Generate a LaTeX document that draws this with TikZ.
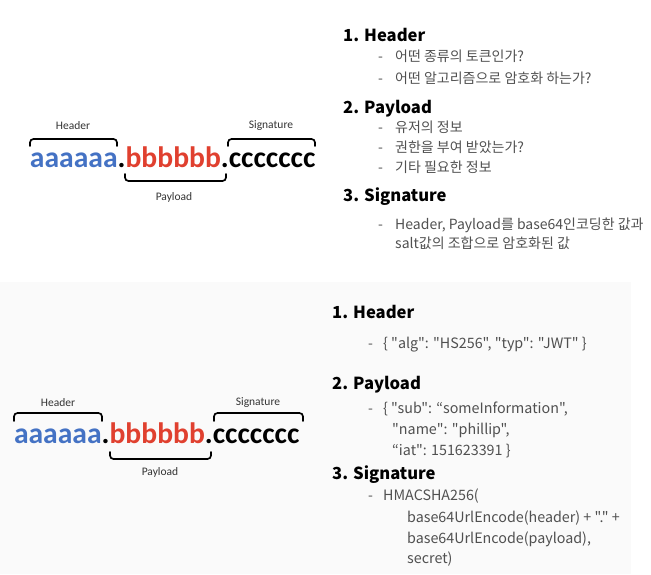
\documentclass[tikz,border=0pt]{standalone}
\usepackage{fontspec}
\setmainfont{Carlito}
\newfontfamily\krfont{Noto Sans CJK KR}
\definecolor{tokblue}{HTML}{4472C4}
\definecolor{tokred}{HTML}{E0402F}
\definecolor{itemgray}{HTML}{505050}
\definecolor{lblgray}{HTML}{333333}
\definecolor{panelbg}{HTML}{FAFAFA}
\tikzset{
  tok/.style={inner sep=0pt, outer sep=0pt, anchor=base west, font=\fontsize{29.6}{30}\selectfont\bfseries},
  lbl/.style={inner sep=0pt, text=lblgray, font=\fontsize{11.5}{12}\selectfont},
  brk/.style={line width=1.7pt, rounded corners=3.5pt, line cap=round},
  head/.style={inner sep=0pt, anchor=base west, font=\krfont\fontsize{16.6}{20}\selectfont\bfseries},
  item/.style={inner sep=0pt, anchor=base west, text=itemgray, font=\krfont\fontsize{14}{16}\selectfont},
  itemb/.style={item, font=\krfont\fontsize{14.3}{16}\selectfont},
  dashm/.style={inner sep=0pt, anchor=base west, text=itemgray, font=\krfont\fontsize{14}{16}\selectfont},
}
\begin{document}
\begin{tikzpicture}[x=1pt,y=-1pt]
\useasboundingbox (0,0) rectangle (651,574);
\fill[panelbg] (0,282) rectangle (631,574);

% ---------- top token ----------
\node[tok, text=tokblue] (ta) at (30,167) {aaaaaa};
\node[tok] (td1) at (ta.base east) {.};
\node[tok, text=tokred] (tb) at (td1.base east) {bbbbbb};
\node[tok] (td2) at (tb.base east) {.};
\node[tok] (tc) at (td2.base east) {ccccccc};
\node[lbl] (tlh) at (73,126) {Header};
\node[lbl] (tls) at (271,126) {Signature};
\node[lbl] (tlp) at (174,197) {Payload};
\draw[brk] (30,146) -- (30,139) -- (117,139) -- (117,146);
\draw[brk] (228,146) -- (228,139) -- (315,139) -- (315,146);
\draw[brk] (125,174) -- (125,181) -- (226,181) -- (226,174);

% ---------- top text ----------
\node[head] (h1) at (343,41.5) {1. Header};
\node[dashm] (d11) at (378,61) {-};
\node[item] (i11) at (395,61) {어떤 종류의 토큰인가?};
\node[dashm] (d12) at (378,83) {-};
\node[item] (i12) at (395,83) {어떤 알고리즘으로 암호화 하는가?};
\node[head] (h2) at (343,113.5) {2. Payload};
\node[dashm] (d21) at (378,132) {-};
\node[item] (i21) at (395,132) {유저의 정보};
\node[dashm] (d22) at (378,152) {-};
\node[item] (i22) at (395,152) {권한을 부여 받았는가?};
\node[dashm] (d23) at (378,172) {-};
\node[item] (i23) at (395,172) {기타 필요한 정보};
\node[head] (h3) at (343,201.5) {3. Signature};
\node[dashm] (d31) at (378,229) {-};
\node[item] (i31) at (395,229) {Header, Payload를 base64인코딩한 값과};
\node[item] (i32) at (395,248) {salt값의 조합으로 암호화된 값};

% ---------- bottom token ----------
\node[tok, text=tokblue] (ba) at (14,443) {aaaaaa};
\node[tok] (bd1) at (ba.base east) {.};
\node[tok, text=tokred] (bb) at (bd1.base east) {bbbbbb};
\node[tok] (bd2) at (bb.base east) {.};
\node[tok] (bc) at (bd2.base east) {ccccccc};
\node[lbl] (blh) at (58,403) {Header};
\node[lbl] (bls) at (258,403) {Signature};
\node[lbl] (blp) at (160,472) {Payload};
\draw[brk] (14,421) -- (14,413) -- (102,413) -- (102,421);
\draw[brk] (214,421) -- (214,413) -- (303,413) -- (303,421);
\draw[brk] (110,452) -- (110,459) -- (211,459) -- (211,452);

% ---------- bottom text ----------
\node[head] (g1) at (332,318.5) {1. Header};
\node[dashm] (e11) at (368,348) {-};
\node[itemb] (j11) at (383,348) {\{ "alg": "HS256", "typ": "JWT" \}};
\node[head] (g2) at (332,389.5) {2. Payload};
\node[dashm] (e21) at (368,413) {-};
\node[itemb] (j21) at (383,413) {\{ "sub": “someInformation",};
\node[itemb] (j22) at (392,434) {"name": "phillip",};
\node[itemb] (j23) at (392,455) {“iat": 151623391 \}};
\node[head] (g3) at (332,479.5) {3. Signature};
\node[dashm] (e31) at (368,500) {-};
\node[itemb] (j31) at (383,500) {HMACSHA256(};
\node[itemb] (j32) at (407,522) {base64UrlEncode(header) + "." +};
\node[itemb] (j33) at (407,543) {base64UrlEncode(payload),};
\node[itemb] (j34) at (407,563) {secret)};
\end{tikzpicture}
\end{document}
